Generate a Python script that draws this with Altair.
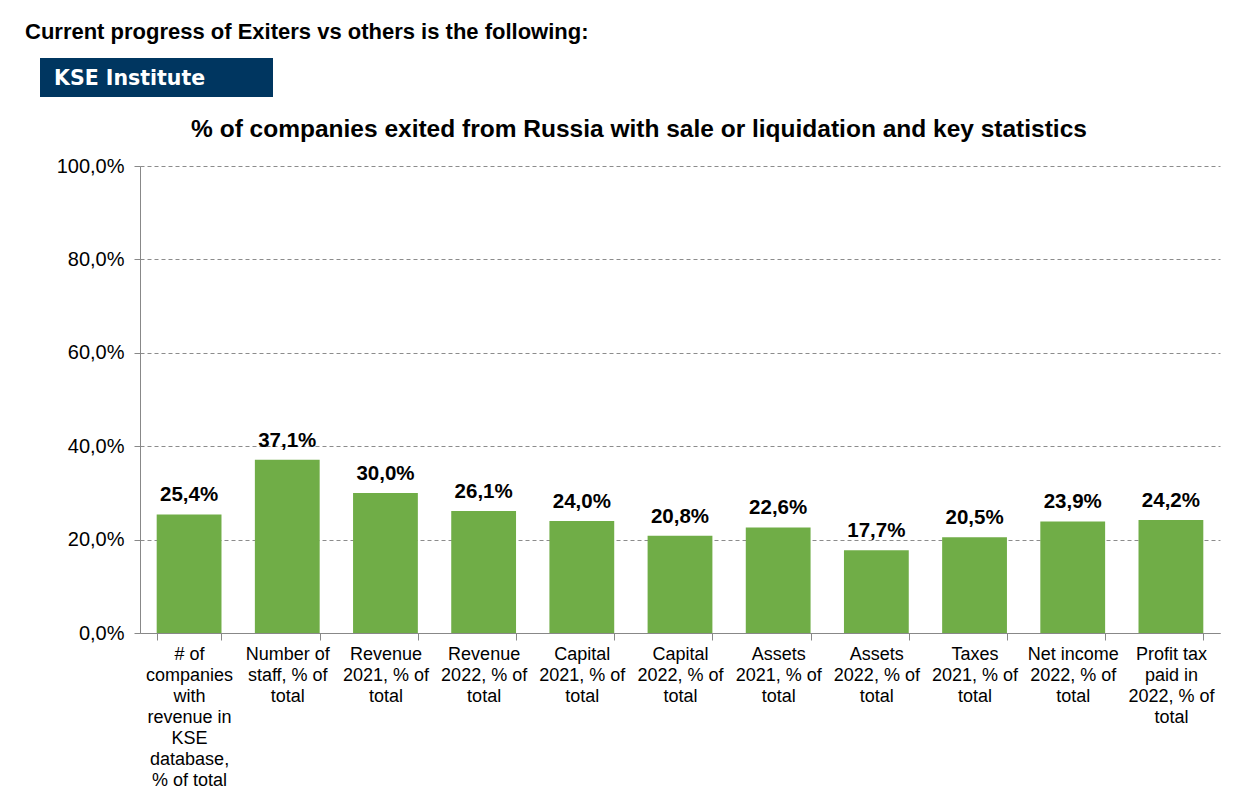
import altair as alt
import pandas as pd

categories = [
    "# of|companies|with|revenue in|KSE|database,|% of total",
    "Number of|staff, % of|total",
    "Revenue|2021, % of|total",
    "Revenue|2022, % of|total",
    "Capital|2021, % of|total",
    "Capital|2022, % of|total",
    "Assets|2021, % of|total",
    "Assets|2022, % of|total",
    "Taxes|2021, % of|total",
    "Net income|2022, % of|total",
    "Profit tax|paid in|2022, % of|total",
]
values = [25.4, 37.1, 30.0, 26.1, 24.0, 20.8, 22.6, 17.7, 20.5, 23.9, 24.2]
y_ticks = [0, 20, 40, 60, 80, 100]

header = "Current progress of Exiters vs others is the following:"
badge = "KSE Institute"
title = "% of companies exited from Russia with sale or liquidation and key statistics"

df = pd.DataFrame({"cat": categories, "v": values})
FONT = "Liberation Sans"
W, H = 1080, 467

x_enc = alt.X(
    "cat:N", sort=categories, title=None,
    scale=alt.Scale(paddingInner=0.34, paddingOuter=0.17),
    axis=alt.Axis(
        labelExpr="split(datum.label, '|')", labelAngle=0, labelFont=FONT,
        labelFontSize=18, labelColor="#000000", labelLineHeight=21,
        labelPadding=5, tickBand="extent", tickSize=7, tickColor="#888888",
        domainColor="#888888", labelLimit=200, grid=False,
    ),
)
y_enc = alt.Y(
    "v:Q", title=None,
    scale=alt.Scale(domain=[0, 100]),
    axis=alt.Axis(
        values=y_ticks, labelExpr="replace(format(datum.value, '.1f'), '.', ',') + '%'",
        labelFont=FONT, labelFontSize=20, labelColor="#000000", labelPadding=10,
        tickSize=6, tickColor="#888888", domainColor="#888888",
        grid=True, gridDash=[4, 3], gridColor="#8c8c8c",
    ),
)

bars = alt.Chart(df).mark_bar(color="#70AD47").encode(x=x_enc, y=y_enc)
labels = alt.Chart(df).transform_calculate(
    lab="replace(format(datum.v, '.1f'), '.', ',') + '%'"
).mark_text(font=FONT, fontSize=20.5, fontWeight="bold", color="#000000",
            baseline="alphabetic", dy=-13).encode(
    x=alt.X("cat:N", sort=categories), y="v:Q", text="lab:N"
)

hdr = alt.Chart(pd.DataFrame({"t": [header]})).mark_text(
    font=FONT, fontSize=22, fontWeight="bold", align="left", baseline="alphabetic", color="#000000"
).encode(x=alt.value(-115), y=alt.value(-127), text="t:N")

box = alt.Chart(pd.DataFrame({"t": [badge]})).mark_rect(color="#003660").encode(
    x=alt.value(-100), x2=alt.value(133), y=alt.value(-108), y2=alt.value(-69)
)
box_txt = alt.Chart(pd.DataFrame({"t": [badge]})).mark_text(
    font="DejaVu Sans", fontSize=20.5, fontWeight="bold", align="left", baseline="alphabetic", color="#FFFFFF"
).encode(x=alt.value(-86), y=alt.value(-81), text="t:N")

ttl = alt.Chart(pd.DataFrame({"t": [title]})).mark_text(
    font=FONT, fontSize=24.5, fontWeight="bold", align="center", baseline="alphabetic", color="#000000"
).encode(x=alt.value(499), y=alt.value(-29), text="t:N")

chart = alt.layer(bars, labels, hdr, box, box_txt, ttl).properties(
    width=W, height=H,
    autosize=alt.AutoSizeParams(type="none"),
    padding={"left": 132, "top": 158, "right": 20, "bottom": 170},
    background="#FFFFFF",
).configure_view(stroke=None)

chart.save("out.html", embed_options={"renderer": "svg", "actions": False})
